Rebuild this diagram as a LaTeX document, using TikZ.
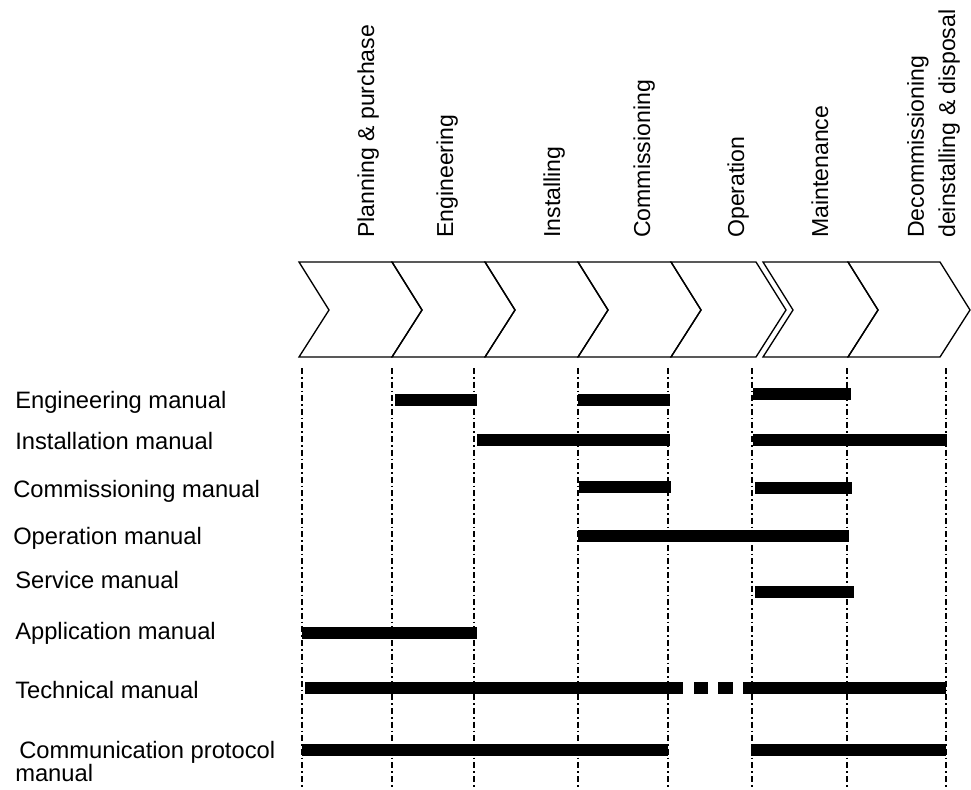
\documentclass[tikz,border=0pt]{standalone}
\usepackage{fontspec}
\setmainfont{Liberation Sans}

\begin{document}
\begin{tikzpicture}[x=0.75pt,y=-0.75pt,
  phase/.style={rotate=90,anchor=base west,inner sep=0pt,font=\fontsize{17.3}{23.3}\selectfont},
  doc/.style={anchor=base west,inner sep=0pt,font=\fontsize{17.8}{23}\selectfont},
  bar/.style={line width=9pt},
  sep/.style={line width=1.4pt,dash pattern=on 4.5pt off 2.2pt on 1.3pt off 2.2pt}]
\useasboundingbox (0,0) rectangle (971,789);
\foreach \a/\b in {299/392,392/485,485/578,578/671,671/756,763/848,848/940}
  \draw[line width=1pt] (\a,262) -- (\b,262) -- ({\b+30},310) -- (\b,357) -- (\a,357) -- ({\a+30},310) -- cycle;
\foreach \x in {302,392,474,578,668,752,847,946}
  \draw[sep] (\x,368) -- (\x,789);
\node[phase] (pPlan) at (374,238) {Planning \& purchase};
\node[phase] (pEng) at (453,238) {Engineering};
\node[phase] (pInst) at (560,238) {Installing};
\node[phase] (pComm) at (650,238) {Commissioning};
\node[phase] (pOper) at (744,238) {Operation};
\node[phase] (pMaint) at (828,238) {Maintenance};
\node[phase,anchor=north west,align=left] (pDec) at (907,238) {Decommissioning\\deinstalling \& disposal};
\node[doc] (dEng) at (15,408) {Engineering manual};
\node[doc] (dInst) at (15,449) {Installation manual};
\node[doc] (dComm) at (13,497) {Commissioning manual};
\node[doc] (dOper) at (13,544) {Operation manual};
\node[doc] (dServ) at (15,588) {Service manual};
\node[doc] (dAppl) at (15,639) {Application manual};
\node[doc] (dTech) at (15,698) {Technical manual};
\node[doc,align=left,anchor=base west] (dProt) at (19,758) {Communication protocol};
\node[doc] (dProt2) at (15,781) {manual};
\draw[bar] (395,400) -- (477,400);
\draw[bar] (578,400) -- (670,400);
\draw[bar] (753,394) -- (851,394);
\draw[bar] (477,440) -- (670,440);
\draw[bar] (753,440) -- (947,440);
\draw[bar] (579,487) -- (671,487);
\draw[bar] (755,488) -- (852,488);
\draw[bar] (578,536) -- (849,536);
\draw[bar] (755,592) -- (854,592);
\draw[bar] (302,633) -- (477,633);
\draw[bar] (305,688) -- (683,688);
\draw[bar] (694,688) -- (708,688);
\draw[bar] (718,688) -- (733,688);
\draw[bar] (743,688) -- (946,688);
\draw[bar] (302,750) -- (668,750);
\draw[bar] (751,750) -- (946,750);
\end{tikzpicture}
\end{document}
